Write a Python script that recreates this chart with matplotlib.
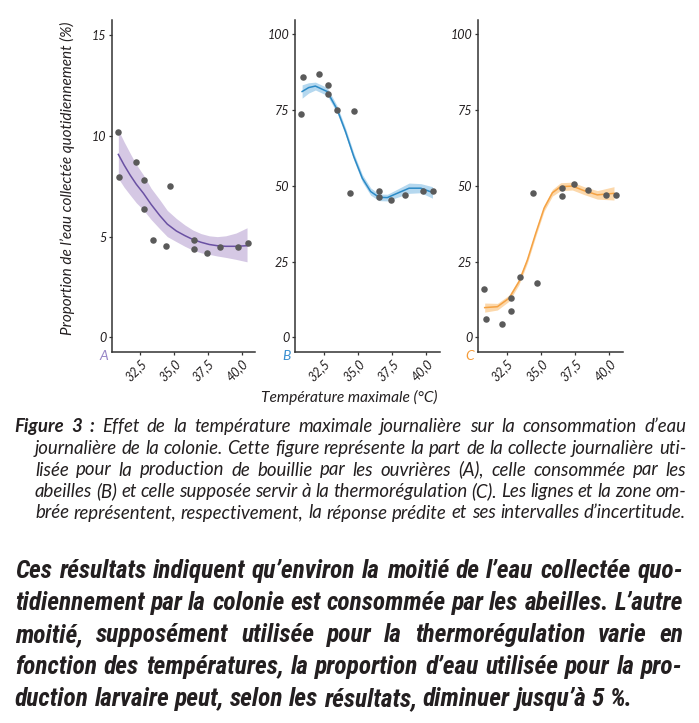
import matplotlib
matplotlib.use("Agg")
import matplotlib.pyplot as plt
from matplotlib import font_manager
from matplotlib.transforms import IdentityTransform

# DONNÉES (température maximale en °C, parts en %)
temperature = [30.85, 30.95, 32.15, 32.78, 32.78, 33.47, 34.39, 34.71, 36.51, 36.51, 37.42, 38.43, 39.75, 40.46]
part_ouvrieres = [10.2, 7.94, 8.68, 7.8, 6.35, 4.81, 4.55, 7.5, 4.81, 4.37, 4.17, 4.5, 4.5, 4.7]   # A
part_abeilles = [73.6, 85.8, 86.9, 83.4, 80.4, 75.1, 47.7, 74.6, 48.4, 46.2, 45.3, 47.0, 48.4, 48.4]  # B
part_thermo = [16.0, 6.1, 4.5, 8.7, 13.1, 20.0, 47.6, 17.8, 46.6, 49.4, 50.5, 48.5, 47.0, 47.0]       # C

# réponse prédite et intervalle d'incertitude
temp_pred_a = [30.87, 31.3, 31.75, 32.2, 32.73, 33.3, 33.95, 34.5, 35.17, 35.8, 36.39, 37.0, 37.61, 38.2, 38.83, 39.6, 40.41]
pred_a = [9.08, 8.55, 8.05, 7.6, 7.15, 6.6, 6.04, 5.62, 5.28, 5.05, 4.86, 4.72, 4.61, 4.55, 4.52, 4.52, 4.55]
haut_a = [10.29, 9.7, 9.13, 8.58, 8.06, 7.4, 6.82, 6.3, 5.9, 5.58, 5.33, 5.15, 5.04, 5.0, 5.04, 5.18, 5.44]
bas_a = [7.89, 7.45, 7.06, 6.68, 6.32, 5.85, 5.38, 5.0, 4.75, 4.52, 4.33, 4.2, 4.12, 4.04, 3.97, 3.87, 3.75]

temp_pred_b = [30.92, 31.4, 31.89, 32.75, 33.48, 34.09, 34.70, 35.32, 35.93, 36.54, 37.15, 37.76, 38.74, 39.60, 40.45]
pred_b = [81.1, 82.4, 82.9, 81.1, 75.2, 67.9, 59.6, 52.5, 48.1, 46.2, 46.1, 47.3, 49.2, 49.2, 47.8]
haut_b = [83.3, 84.0, 84.2, 82.4, 76.4, 69.1, 60.8, 53.7, 49.3, 47.3, 47.2, 48.6, 50.9, 50.7, 49.7]
bas_b = [78.9, 80.6, 81.6, 79.8, 74.0, 66.7, 58.4, 51.3, 46.9, 45.1, 45.0, 46.0, 47.5, 47.7, 45.9]

temp_pred_c = [30.89, 31.82, 32.67, 33.40, 34.01, 34.62, 35.23, 35.84, 36.44, 37.30, 38.15, 39.12, 40.34]
pred_c = [9.8, 10.1, 12.9, 18.4, 25.5, 34.3, 42.6, 47.7, 49.7, 49.9, 48.4, 47.0, 47.5]
haut_c = [11.3, 11.2, 13.9, 19.4, 26.5, 35.3, 43.6, 48.8, 51.0, 51.2, 49.7, 48.4, 49.7]
bas_c = [8.3, 9.0, 11.9, 17.4, 24.5, 33.3, 41.6, 46.6, 48.4, 48.6, 47.1, 45.6, 45.3]

ticks_x = [32.5, 35.0, 37.5, 40.0]
labels_x = ["32,5", "35,0", "37,5", "40,0"]
ticks_y_a = [0, 5, 10, 15]
ticks_y_bc = [0, 25, 50, 75, 100]

# TEXTES
legende = [
    "Figure 3 : Effet de la température maximale journalière sur la consommation d’eau",
    "journalière de la colonie. Cette figure représente la part de la collecte journalière uti-",
    "lisée pour la production de bouillie par les ouvrières (A), celle consommée par les",
    "abeilles (B) et celle supposée servir à la thermorégulation (C). Les lignes et la zone om-",
    "brée représentent, respectivement, la réponse prédite et ses intervalles d’incertitude.",
]
conclusion = [
    "Ces résultats indiquent qu’environ la moitié de l’eau collectée quo-",
    "tidiennement par la colonie est consommée par les abeilles. L’autre",
    "moitié, supposément utilisée pour la thermorégulation varie en",
    "fonction des températures, la proportion d’eau utilisée pour la pro-",
    "duction larvaire peut, selon les résultats, diminuer jusqu’à 5 %.",
]

# polices disponibles
noms = {f.name for f in font_manager.fontManager.ttflist}
police = "Lato" if "Lato" in noms else "DejaVu Sans"
police_etroite = next((n for n in ["Liberation Sans Narrow", "Roboto Condensed", "Open Sans Condensed"] if n in noms), police)

L, H = 699, 723
TXT = "#231f20"
fig = plt.figure(figsize=(L / 100, H / 100), dpi=100)
pix = IdentityTransform()

# (lettre, valeurs, x pred, pred, bas, haut, couleur ligne, couleur bande, couleur lettre, ticks y, ylim, gauche px, largeur px)
panneaux = [
    ("A", part_ouvrieres, temp_pred_a, pred_a, bas_a, haut_a, "#6a51a3", "#d5c8e4", "#9684c6", ticks_y_a, (-0.71, 15.75), 112, 143),
    ("B", part_abeilles, temp_pred_b, pred_b, bas_b, haut_b, "#2c8ac6", "#b5d8ef", "#3a8fd0", ticks_y_bc, (-4.75, 104.7), 295, 145),
    ("C", part_thermo, temp_pred_c, pred_c, bas_c, haut_c, "#f5a243", "#fcd8ab", "#f59b38", ticks_y_bc, (-4.75, 104.7), 478, 145),
]

for lettre, valeurs, tp, pr, bas, haut, c_ligne, c_bande, c_lettre, ty, ylim, gx, lx in panneaux:
    ax = fig.add_axes([gx / L, 1 - 351.7 / H, lx / L, 331.7 / H])
    ax.fill_between(tp, bas, haut, color=c_bande, linewidth=0, zorder=1)
    ax.plot(tp, pr, color=c_ligne, linewidth=1.1, zorder=2)
    ax.scatter(temperature, valeurs, s=22, color="#5a5a5a", linewidths=0, zorder=3)
    ax.set_xlim(30.4, 41.0)
    ax.set_ylim(*ylim)
    ax.set_xticks(ticks_x)
    ax.set_xticklabels(labels_x, rotation=45, ha="right", va="top", rotation_mode="anchor")
    ax.set_yticks(ty)
    ax.set_yticklabels([str(v) for v in ty])
    for cote in ["top", "right"]:
        ax.spines[cote].set_visible(False)
    for cote in ["left", "bottom"]:
        ax.spines[cote].set_color("#333333")
        ax.spines[cote].set_linewidth(1.1)
    ax.tick_params(direction="out", length=2.5, width=0.9, color="#333333", labelsize=9, labelcolor=TXT, pad=1.5)
    for lab in ax.get_xticklabels() + ax.get_yticklabels():
        lab.set_fontstyle("italic")
        lab.set_family(police)
    fig.text(gx - 4, H - 356, lettre, transform=pix, ha="right", va="center",
             color=c_lettre, fontsize=10, family=police, style="italic")

fig.text(67, H - 178, "Proportion de l’eau collectée quotidiennement (%)", transform=pix,
         rotation=90, ha="center", va="center", fontsize=11, family=police, style="italic", color=TXT)
fig.text(349, H - 397, "Température maximale (°C)", transform=pix,
         ha="center", va="center", fontsize=11.2, family=police, style="italic", color=TXT)

rendu = fig.canvas.get_renderer()


def largeurs_mots(mots, taille, famille, poids):
    res = []
    for mot, p in zip(mots, poids):
        t = fig.text(0, 0, mot, transform=pix, fontsize=taille, family=famille, style="italic", weight=p)
        res.append(t.get_window_extent(rendu).width)
        t.remove()
    return res


def taille_ajustee(ligne, largeur, famille, gras, espace_em):
    # taille de police pour que la ligne la plus serrée tienne avec un espace normal
    mots = ligne.split(" ")
    w10 = sum(largeurs_mots(mots, 10, famille, ["bold" if gras else "normal"] * len(mots)))
    return largeur / (w10 / 10 + (len(mots) - 1) * espace_em * 100 / 72)


def ecrire_ligne(ligne, x0, x1, base, taille, famille, gras=False, gras_debut=0, justifier=True):
    mots = ligne.split(" ")
    poids = ["bold" if (gras or i < gras_debut) else "normal" for i in range(len(mots))]
    largeurs = largeurs_mots(mots, taille, famille, poids)
    if justifier and len(mots) > 1:
        espace = (x1 - x0 - sum(largeurs)) / (len(mots) - 1)
    else:
        espace = 0.22 * taille * 100 / 72
    x = x0
    for mot, p, w in zip(mots, poids, largeurs):
        fig.text(x, H - base, mot, transform=pix, fontsize=taille, family=famille,
                 style="italic", weight=p, color=TXT, va="baseline")
        x += w + espace


# légende de la figure
taille_leg = taille_ajustee(legende[1], 651, police, False, 0.24)
bases_legende = [432, 454, 475.5, 497, 518.5]
for i, (ligne, base) in enumerate(zip(legende, bases_legende)):
    x0 = 14 if i == 0 else 35
    ecrire_ligne(ligne, x0, 686, base, taille_leg, police, gras_debut=3 if i == 0 else 0)

# paragraphe de conclusion
taille_conc = taille_ajustee(conclusion[1], 668, police_etroite, True, 0.22)
bases_conclusion = [578, 610, 642, 674, 706]
for i, (ligne, base) in enumerate(zip(conclusion, bases_conclusion)):
    ecrire_ligne(ligne, 15, 683, base, taille_conc, police_etroite, gras=True, justifier=i < 4)

fig.savefig("out.png", dpi=100)
